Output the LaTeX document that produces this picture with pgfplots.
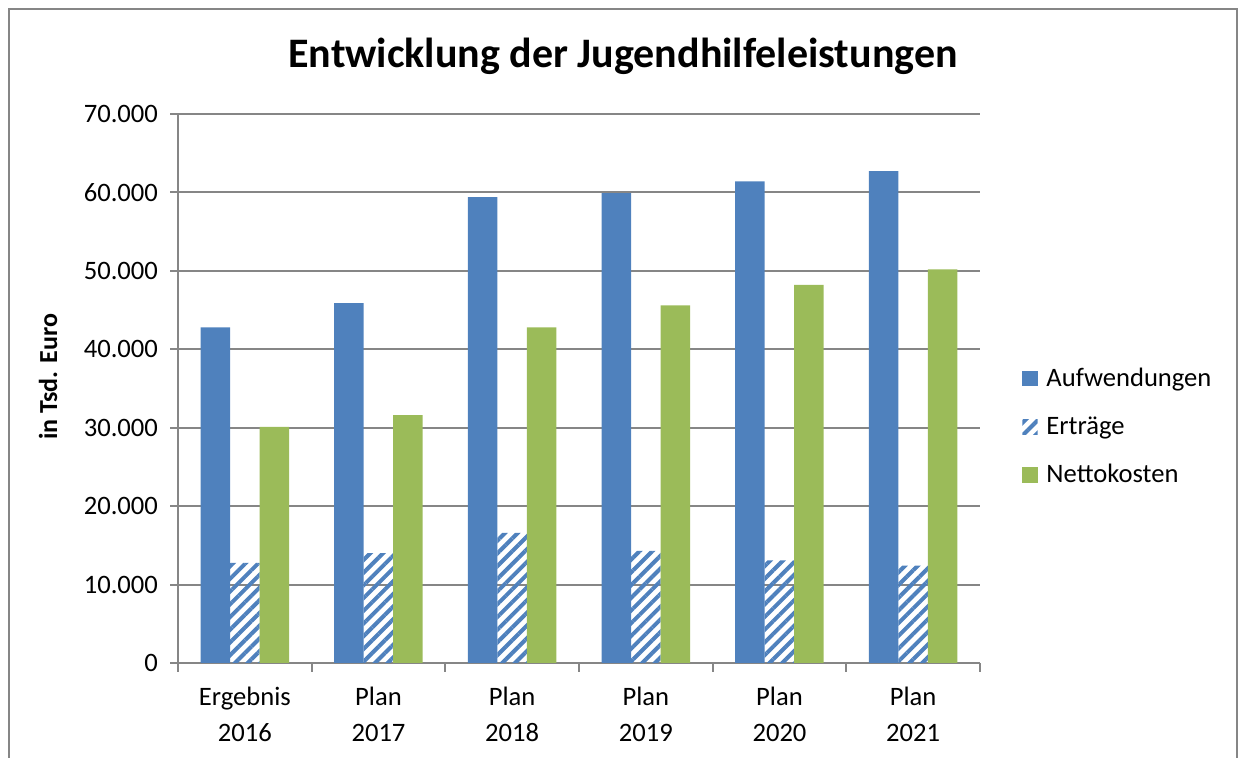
\documentclass[border=0pt]{standalone}
\usepackage{pgfplots}
\pgfplotsset{compat=1.18}
\usepackage{fontspec}
\setmainfont{Carlito}
\usetikzlibrary{patterns.meta}
\definecolor{cblue}{HTML}{4F81BD}
\definecolor{cgreen}{HTML}{9BBB59}
\definecolor{cgrid}{HTML}{868686}
\begin{document}
\begin{tikzpicture}
\begin{axis}[
  at={(89pt,47.5pt)}, anchor=south west,
  scale only axis, width=401pt, height=274.5pt,
  ybar=0pt, bar width=14.75pt,
  xmin=-0.5, xmax=5.5, ymin=0, ymax=70000,
  xtick={0,...,5},
  xticklabels={{Ergebnis\\2016},{Plan\\2017},{Plan\\2018},{Plan\\2019},{Plan\\2020},{Plan\\2021}},
  xticklabel style={align=center, font=\fontsize{13.3}{17.8}\selectfont, yshift=-4.5pt},
  yticklabel style={font=\fontsize{13.3}{15}\selectfont, xshift=-2.5pt},
  minor xtick={-0.5,0.5,...,5.5},
  ytick={0,10000,...,70000},
  scaled y ticks=false,
  /pgf/number format/.cd, fixed, 1000 sep={.}, assume math mode=true,
  /pgfplots/.cd,
  axis x line=bottom, axis y line=left,
  axis line style={-, draw=cgrid, line width=1pt},
  ymajorgrids, major grid style={draw=cgrid, line width=1pt},
  tick align=outside,
  major tick length=4pt, minor tick length=4.5pt,
  major x tick style={draw=none},
  minor x tick style={draw=cgrid, line width=1pt},
  major y tick style={draw=cgrid, line width=1pt},
  legend style={at={(axis description cs:1.045,0.43)}, anchor=west, draw=none, fill=none,
    font=\fontsize{13.3}{15}\selectfont, row sep=9.5pt},
  legend cell align=left,
  legend image code/.code={\fill[#1] (0pt,-3.8pt) rectangle (7.6pt,3.8pt); \path (10pt,0pt);},
]
\addplot[fill=cblue, draw=none] coordinates {(0,42800) (1,45900) (2,59400) (3,59900) (4,61400) (5,62700)};
\addplot[pattern={Lines[angle=45,distance=4.5pt,line width=2pt]}, pattern color=cblue, draw=none] coordinates {(0,12750) (1,14000) (2,16600) (3,14300) (4,13100) (5,12400)};
\addplot[fill=cgreen, draw=none] coordinates {(0,30100) (1,31600) (2,42800) (3,45600) (4,48200) (5,50200)};
\legend{Aufwendungen,Erträge,Nettokosten}
\end{axis}
\node[font=\bfseries\fontsize{21}{25}\selectfont] at (311.5pt,351pt) {Entwicklung der Jugendhilfeleistungen};
\node[rotate=90, font=\bfseries\fontsize{13}{15}\selectfont] at (24pt,190.5pt) {in Tsd. Euro};
\draw[cgrid, line width=0.75pt] (4.5pt,0pt) -- (4.5pt,374.5pt) -- (618.5pt,374.5pt) -- (618.5pt,0pt);
\pgfresetboundingbox
\useasboundingbox (0,0) rectangle (621.5pt,379pt);
\end{tikzpicture}
\end{document}
